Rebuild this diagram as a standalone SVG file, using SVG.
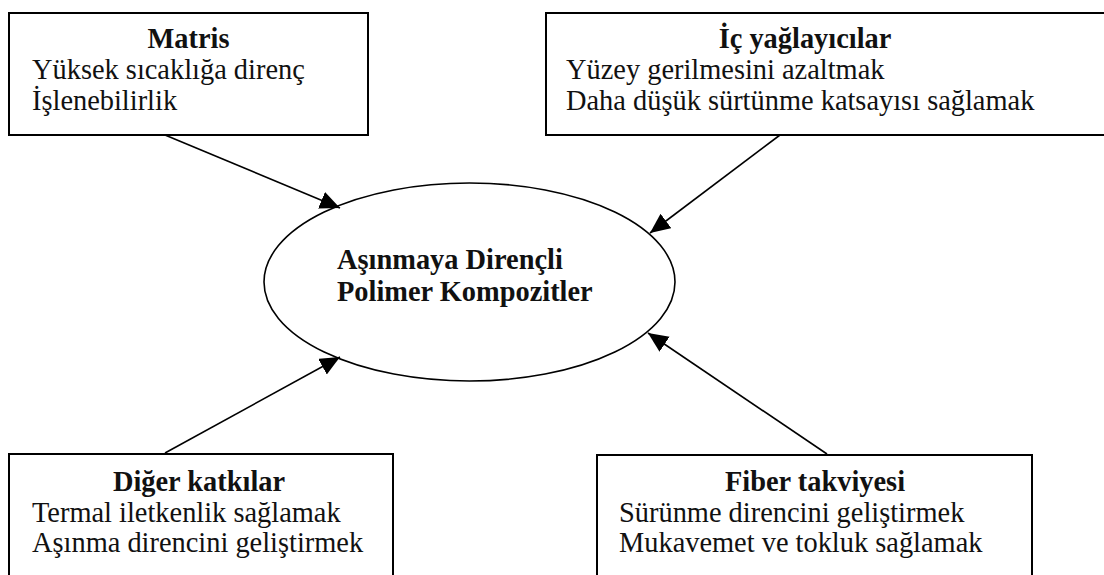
<svg xmlns="http://www.w3.org/2000/svg" width="1104" height="575" viewBox="0 0 1104 575">
<style>
.box{fill:#fff;stroke:#000;stroke-width:2}
.t{font-family:"Liberation Serif","Times New Roman",serif;font-size:28.4px;fill:#111}
.b{font-weight:bold;text-anchor:middle}
.eb{font-weight:bold}
.c{stroke:#000;stroke-width:1.6;fill:none}
</style>
<defs>
<marker id="ah" markerUnits="userSpaceOnUse" markerWidth="22" markerHeight="20" refX="20" refY="9" orient="auto">
<path d="M0,0 L20,9 L0,18 Z" fill="#000"/>
</marker>
</defs>
<rect width="1104" height="575" fill="#fff"/>
<g id="connectors">
<line class="c" x1="165" y1="135" x2="340" y2="208" marker-end="url(#ah)"/>
<line class="c" x1="780" y1="135" x2="650" y2="233" marker-end="url(#ah)"/>
<line class="c" x1="165" y1="453" x2="340" y2="357" marker-end="url(#ah)"/>
<line class="c" x1="827" y1="454" x2="648" y2="333" marker-end="url(#ah)"/>
</g>
<g id="center">
<ellipse cx="469.5" cy="282" rx="205.5" ry="99" fill="none" stroke="#000" stroke-width="1.6"/>
<text class="t eb" x="337" y="269">Aşınmaya Dirençli</text>
<text class="t eb" x="337" y="301">Polimer Kompozitler</text>
</g>
<g id="matris">
<rect class="box" x="9" y="13" width="359" height="122"/>
<text class="t b" x="188.5" y="48">Matris</text>
<text class="t" x="32" y="79">Yüksek sıcaklığa direnç</text>
<text class="t" x="32" y="110">İşlenebilirlik</text>
</g>
<g id="ic-yaglayicilar">
<rect class="box" x="546" y="13" width="600" height="122"/>
<text class="t b" x="805" y="48">İç yağlayıcılar</text>
<text class="t" x="566" y="79">Yüzey gerilmesini azaltmak</text>
<text class="t" x="566" y="110">Daha düşük sürtünme katsayısı sağlamak</text>
</g>
<g id="diger-katkilar">
<rect class="box" x="9" y="454" width="384" height="140"/>
<text class="t b" x="199" y="491">Diğer katkılar</text>
<text class="t" x="32" y="522">Termal iletkenlik sağlamak</text>
<text class="t" x="32" y="552">Aşınma direncini geliştirmek</text>
</g>
<g id="fiber-takviyesi">
<rect class="box" x="597" y="455" width="435" height="140"/>
<text class="t b" x="815" y="491">Fiber takviyesi</text>
<text class="t" x="619" y="522">Sürünme direncini geliştirmek</text>
<text class="t" x="619" y="552">Mukavemet ve tokluk sağlamak</text>
</g>
</svg>
